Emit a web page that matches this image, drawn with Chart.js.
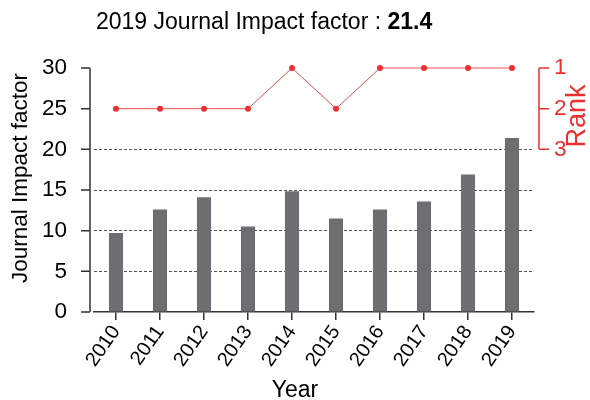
<!DOCTYPE html>
<html><head><meta charset="utf-8">
<script src="https://cdn.jsdelivr.net/npm/chart.js@4/dist/chart.umd.min.js"></script>
<style>html,body{margin:0;padding:0;background:#fff}#wrap{width:590px;height:400px;position:relative}</style>
</head><body><div id="wrap"><canvas id="c"></canvas></div>
<script>
const years = ['2010','2011','2012','2013','2014','2015','2016','2017','2018','2019'];
const impactFactor = [9.7, 12.6, 14.1, 10.5, 14.85, 11.5, 12.6, 13.6, 16.9, 21.4];
const rank = [2, 2, 2, 2, 1, 2, 1, 1, 1, 1];
const impactTicks = [0, 5, 10, 15, 20, 25, 30];
const rankTicks = [1, 2, 3];
const gridValues = [5, 10, 15, 20];
const titleText = '2019 Journal Impact factor : ';
const titleValue = '21.4';
const xTitle = 'Year';
const yTitle = 'Journal Impact factor';
const y2Title = 'Rank';

const FONT = "'Liberation Sans', Arial, Helvetica, sans-serif";
const RED = '#ee2f2f';
const AXIS = '#333333';

const drawPlugin = {
  id: 'customAxes',
  afterDraw(chart) {
    const ctx = chart.ctx, ca = chart.chartArea;
    const y = chart.scales.y, y2 = chart.scales.y2;
    ctx.save();
    // left axis
    const xl = ca.left - 4;
    ctx.strokeStyle = AXIS; ctx.lineWidth = 1.5;
    ctx.beginPath();
    ctx.moveTo(xl, y.getPixelForValue(impactTicks[impactTicks.length-1]));
    ctx.lineTo(xl, y.getPixelForValue(impactTicks[0]));
    impactTicks.forEach(v => { const p = y.getPixelForValue(v); ctx.moveTo(xl - 9, p); ctx.lineTo(xl, p); });
    ctx.stroke();
    // right axis
    const xr = ca.right + 5;
    ctx.strokeStyle = RED; ctx.lineWidth = 1.5;
    ctx.beginPath();
    ctx.moveTo(xr, y2.getPixelForValue(rankTicks[0]));
    ctx.lineTo(xr, y2.getPixelForValue(rankTicks[rankTicks.length-1]));
    rankTicks.forEach(v => { const p = y2.getPixelForValue(v); ctx.moveTo(xr, p); ctx.lineTo(xr + 10, p); });
    ctx.stroke();
    // title
    ctx.fillStyle = '#000';
    ctx.textBaseline = 'alphabetic'; ctx.textAlign = 'left';
    ctx.font = '23px ' + FONT;
    const w = ctx.measureText(titleText).width;
    ctx.fillText(titleText, 96, 29);
    ctx.font = 'bold 23px ' + FONT;
    ctx.fillText(titleValue, 96 + w, 29);
    // x title
    ctx.font = '23px ' + FONT; ctx.textAlign = 'center';
    ctx.fillText(xTitle, 295, 397);
    // y title
    ctx.save(); ctx.translate(21, 178); ctx.rotate(-Math.PI/2);
    ctx.textAlign = 'center'; ctx.textBaseline = 'middle'; ctx.font = '22.5px ' + FONT;
    ctx.fillText(yTitle, 0, 0); ctx.restore();
    // rank title
    ctx.save(); ctx.translate(578, 116); ctx.rotate(-Math.PI/2);
    ctx.textAlign = 'center'; ctx.textBaseline = 'middle'; ctx.font = '27px ' + FONT; ctx.fillStyle = RED;
    ctx.fillText(y2Title, 0, 0); ctx.restore();
    ctx.restore();
  }
};

new Chart(document.getElementById('c'), {
  type: 'bar',
  data: {
    labels: years,
    datasets: [
      { type: 'line', label: 'Rank', data: rank, yAxisID: 'y2', order: 0, clip: false,
        borderColor: 'rgba(238,47,47,0.85)', borderWidth: 1, pointRadius: 3,
        pointBackgroundColor: RED, pointBorderWidth: 0, tension: 0 },
      { type: 'bar', label: 'Journal Impact factor', data: impactFactor, yAxisID: 'y', order: 1,
        backgroundColor: '#6d6e72', barPercentage: 0.8, categoryPercentage: 0.4 }
    ]
  },
  options: {
    responsive: true, maintainAspectRatio: false, animation: false,
    layout: { padding: { top: 68, left: 0, right: 0, bottom: 0 } },
    plugins: { legend: { display: false }, tooltip: { enabled: false }, title: { display: false } },
    scales: {
      x: {
        grid: { offset: false, drawOnChartArea: false, drawTicks: true, tickLength: 8, color: AXIS, lineWidth: 1.5 },
        border: { display: true, color: AXIS, width: 1.5 },
        ticks: { autoSkip: false, minRotation: 55, maxRotation: 55, padding: 1, color: '#000', font: { family: FONT, size: 20 } },
        afterFit(s) { s.height = 88; }
      },
      y: {
        position: 'left', min: 0, max: 30,
        afterBuildTicks(s) { s.ticks = impactTicks.map(v => ({ value: v })); },
        grid: { drawTicks: false, color: c => gridValues.includes(c.tick && c.tick.value) ? '#555' : 'rgba(0,0,0,0)', lineWidth: 1 },
        border: { display: false, dash: [3, 2] },
        ticks: { padding: 27, color: '#000', font: { family: FONT, size: 22.5 } },
        afterFit(s) { s.width = 94; }
      },
      y2: {
        position: 'right', min: 1, max: 7, reverse: true,
        afterBuildTicks(s) { s.ticks = rankTicks.map(v => ({ value: v })); },
        grid: { drawOnChartArea: false, drawTicks: false },
        border: { display: false },
        ticks: { padding: 20, color: RED, font: { family: FONT, size: 22.5 } },
        afterFit(s) { s.width = 56; }
      }
    }
  },
  plugins: [drawPlugin]
});
</script>
</body></html>
